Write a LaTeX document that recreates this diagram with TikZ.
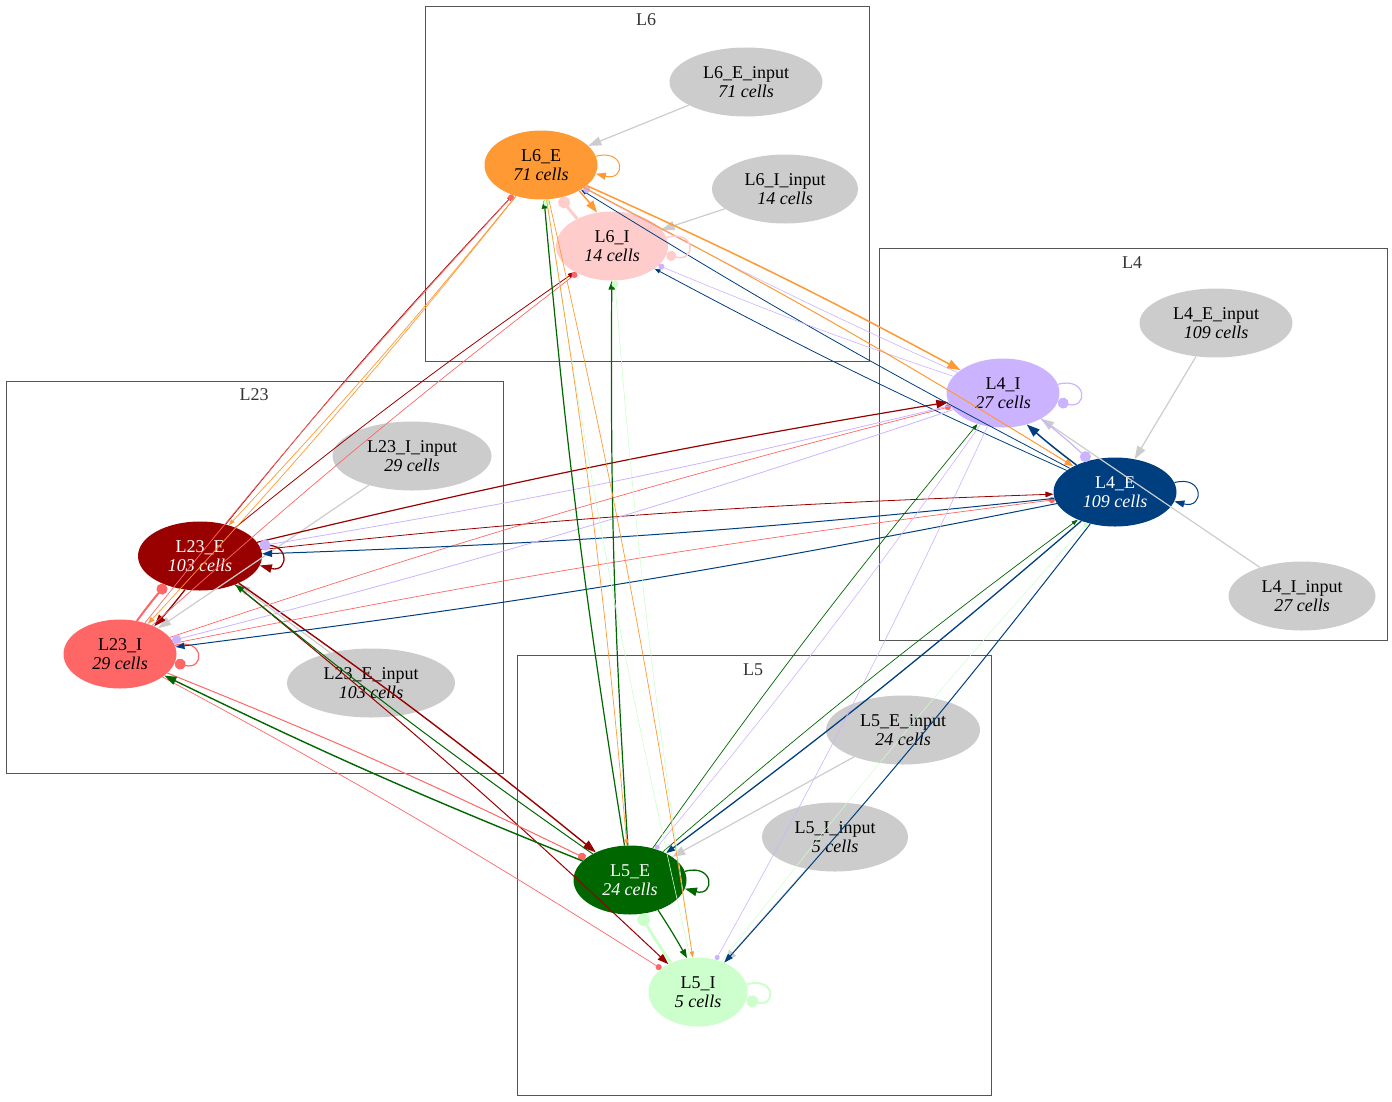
\documentclass[tikz,border=0pt]{standalone}
\usepackage{fontspec}
\setmainfont{Liberation Serif}
\usetikzlibrary{arrows.meta,shapes.geometric}

\definecolor{cL23E}{HTML}{990000}
\definecolor{cL23I}{HTML}{FF6666}
\definecolor{cL4E}{HTML}{003F7F}
\definecolor{cL4I}{HTML}{CCB3FF}
\definecolor{cL5E}{HTML}{006600}
\definecolor{cL5I}{HTML}{CCFFCC}
\definecolor{cL6E}{HTML}{FF9933}
\definecolor{cL6I}{HTML}{FFCCCC}
\definecolor{cIn}{HTML}{CCCCCC}
\definecolor{cBox}{HTML}{555555}
\definecolor{cLab}{HTML}{333333}

\begin{document}
\begin{tikzpicture}[
 x=1pt,y=-1pt,
 pop/.style={ellipse,inner sep=0pt,minimum height=69pt,align=center,font=\fontsize{18}{19}\selectfont},
 stim/.style={pop,fill=cIn},
 layerbox/.style={draw=cBox,line width=1pt},
 layerlabel/.style={text=cLab,inner sep=0pt,font=\fontsize{18}{19}\selectfont},
 exc/.style 2 args={line width=#1,-{Triangle[length=10pt,width=7pt,scale=#2]}},
 inh/.style 2 args={line width=#1,-{Circle[length=10pt,scale=#2]}},
 stimline/.style={cIn,exc={1.2pt}{1.3}},
 every edge/.append style={bend left=2}
]
\useasboundingbox (0,0) rectangle (1392,1101);

% layers
\draw[layerbox] (425,6) rectangle (869,361);
\node[layerlabel] (labL6) at (646,20) {L6};
\draw[layerbox] (6,381) rectangle (503,773);
\node[layerlabel] (labL23) at (254,395) {L23};
\draw[layerbox] (879,248) rectangle (1387,640);
\node[layerlabel] (labL4) at (1132,263) {L4};
\draw[layerbox] (517,655) rectangle (991,1095);
\node[layerlabel] (labL5) at (753,670) {L5};

% populations
\node[pop,fill=cL6E,minimum width=113pt] (L6E) at (541,165) {L6\_E\\\textit{71 cells}};
\node[pop,fill=cL6I,minimum width=112pt] (L6I) at (612,246) {L6\_I\\\textit{14 cells}};
\node[stim,minimum width=153pt] (L6Ein) at (746,82) {L6\_E\_input\\\textit{71 cells}};
\node[stim,minimum width=146pt] (L6Iin) at (785,189) {L6\_I\_input\\\textit{14 cells}};
\node[pop,fill=cL23E,text=white,minimum width=124pt] (L23E) at (200,556) {L23\_E\\\textit{103 cells}};
\node[pop,fill=cL23I,minimum width=113pt] (L23I) at (120,654) {L23\_I\\\textit{29 cells}};
\node[stim,minimum width=159pt] (L23Iin) at (412,456) {L23\_I\_input\\\textit{29 cells}};
\node[stim,minimum width=168pt] (L23Ein) at (371,683) {L23\_E\_input\\\textit{103 cells}};
\node[pop,fill=cL4I,minimum width=113pt] (L4I) at (1003,393) {L4\_I\\\textit{27 cells}};
\node[pop,fill=cL4E,text=white,minimum width=123pt] (L4E) at (1115,492) {L4\_E\\\textit{109 cells}};
\node[stim,minimum width=153pt] (L4Ein) at (1216,323) {L4\_E\_input\\\textit{109 cells}};
\node[stim,minimum width=147pt] (L4Iin) at (1302,596) {L4\_I\_input\\\textit{27 cells}};
\node[pop,fill=cL5E,text=white,minimum width=113pt] (L5E) at (630,880) {L5\_E\\\textit{24 cells}};
\node[pop,fill=cL5I,minimum width=99pt] (L5I) at (698,992) {L5\_I\\\textit{5 cells}};
\node[stim,minimum width=154pt] (L5Ein) at (903,730) {L5\_E\_input\\\textit{24 cells}};
\node[stim,minimum width=146pt] (L5Iin) at (835,837) {L5\_I\_input\\\textit{5 cells}};

% inputs
\draw[stimline] (L6Ein) -- (L6E);
\draw[stimline] (L6Iin) -- (L6I);
\draw[stimline] (L23Iin) -- (L23I);
\draw[stimline] (L23Ein) -- (L23E);
\draw[stimline] (L4Ein) -- (L4E);
\draw[stimline] (L4Iin) -- (L4I);
\draw[stimline] (L5Ein) -- (L5E);
\draw[stimline] (L5Iin) -- (L5I);

% L23_E
\draw[cL23E,exc={1.3pt}{1.2}] (L23E.9) .. controls +(30,-8) and +(30,8) .. (L23E.-9);
\draw[cL23E] (L23E.-114) edge[exc={1.3pt}{1.2}] (L23I.39)
 (L23E) edge[exc={1.2pt}{1.2}] (L4I)
 (L23E) edge[exc={0.8pt}{0.8}] (L4E)
 (L23E) edge[exc={1.4pt}{1.3}] (L5E)
 (L23E) edge[exc={1pt}{1.1}] (L5I)
 (L23E) edge[exc={0.7pt}{0.6}] (L6E)
 (L23E) edge[exc={0.8pt}{0.7}] (L6I);

% L23_I
\draw[cL23I,inh={1.2pt}{1.1}] (L23I.9) .. controls +(30,-8) and +(30,8) .. (L23I.-9);
\draw[cL23I] (L23I.63) edge[inh={2pt}{1.1}] (L23E.-140)
 (L23I) edge[inh={0.7pt}{0.6}] (L4I)
 (L23I) edge[inh={0.7pt}{0.6}] (L4E)
 (L23I) edge[inh={1pt}{0.8}] (L5E)
 (L23I) edge[inh={0.7pt}{0.6}] (L5I)
 (L23I) edge[inh={0.7pt}{0.6}] (L6E)
 (L23I) edge[inh={0.7pt}{0.6}] (L6I);

% L4_E
\draw[cL4E,exc={1pt}{1}] (L4E.9) .. controls +(30,-8) and +(30,8) .. (L4E.-9);
\draw[cL4E] (L4E.145) edge[exc={1.5pt}{1.3}] (L4I.-53)
 (L4E) edge[exc={1pt}{1}] (L23E)
 (L4E) edge[exc={1pt}{0.9}] (L23I)
 (L4E) edge[exc={1.3pt}{0.9}] (L5E)
 (L4E) edge[exc={1pt}{0.9}] (L5I)
 (L4E) edge[exc={0.8pt}{0.6}] (L6E)
 (L4E) edge[exc={0.8pt}{0.6}] (L6I);

% L4_I
\draw[cL4I,inh={1.2pt}{1.1}] (L4I.9) .. controls +(30,-8) and +(30,8) .. (L4I.-9);
\draw[cL4I] (L4I.-34) edge[inh={1.2pt}{1.1}] (L4E.129)
 (L4I) edge[inh={0.8pt}{1.1}] (L23E)
 (L4I) edge[inh={0.8pt}{0.9}] (L23I)
 (L4I) edge[inh={0.6pt}{0.5}] (L5E)
 (L4I) edge[inh={0.6pt}{0.5}] (L5I)
 (L4I) edge[inh={0.6pt}{0.7}] (L6E)
 (L4I) edge[inh={0.6pt}{0.6}] (L6I);

% L5_E
\draw[cL5E,exc={1.3pt}{1.2}] (L5E.9) .. controls +(30,-8) and +(30,8) .. (L5E.-9);
\draw[cL5E] (L5E.-47) edge[exc={1.2pt}{0.9}] (L5I.108)
 (L5E) edge[exc={1pt}{0.9}] (L23E)
 (L5E) edge[exc={1.4pt}{1.2}] (L23I)
 (L5E) edge[exc={0.7pt}{0.6}] (L4I)
 (L5E) edge[exc={0.7pt}{0.6}] (L4E)
 (L5E) edge[exc={1.2pt}{0.9}] (L6E)
 (L5E) edge[exc={1.2pt}{0.9}] (L6I);

% L5_I
\draw[cL5I,inh={2pt}{1.2}] (L5I.9) .. controls +(30,-8) and +(30,8) .. (L5I.-9);
\draw[cL5I] (L5I.133) edge[inh={3pt}{1.3}] (L5E.-73)
 (L5I) edge[inh={0.5pt}{0.5}] (L4E)
 (L5I) edge[inh={0.6pt}{0.7}] (L6E)
 (L5I) edge[inh={0.6pt}{0.7}] (L6I);

% L6_E
\draw[cL6E,exc={1pt}{1}] (L6E.9) .. controls +(30,-8) and +(30,8) .. (L6E.-9);
\draw[cL6E] (L6E.-34) edge[exc={1.5pt}{1.2}] (L6I.114)
 (L6E) edge[exc={1.5pt}{1.3}] (L4I)
 (L6E) edge[exc={1pt}{0.9}] (L4E)
 (L6E) edge[exc={0.7pt}{0.6}] (L23E)
 (L6E) edge[exc={0.7pt}{0.7}] (L23I)
 (L6E) edge[exc={0.7pt}{0.6}] (L5E)
 (L6E) edge[exc={0.7pt}{0.6}] (L5I);

% L6_I
\draw[cL6I,inh={1.5pt}{1}] (L6I.9) .. controls +(30,-8) and +(30,8) .. (L6I.-9);
\draw[cL6I] (L6I.142) edge[inh={3pt}{1.2}] (L6E.-59);
\end{tikzpicture}
\end{document}
